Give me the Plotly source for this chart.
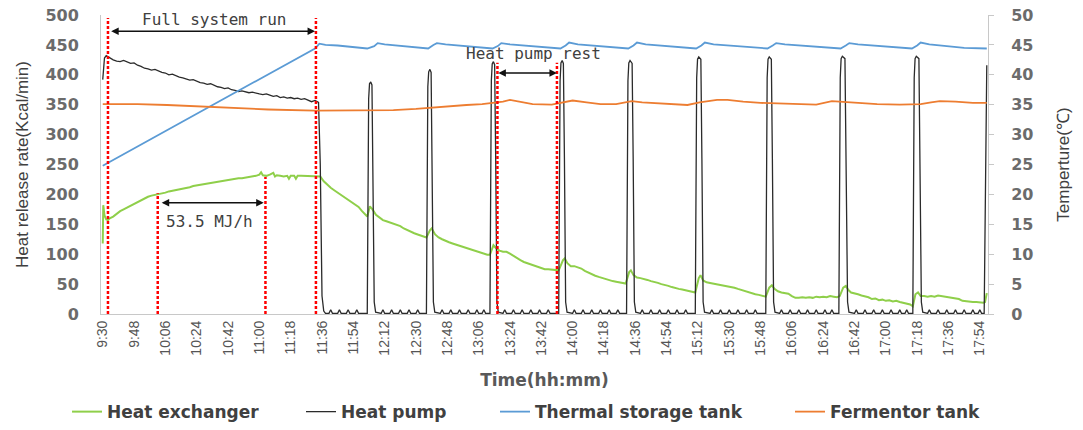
import plotly.graph_objects as go

# ---------------- data (x = minutes after 9:30) ----------------
tick_labels = ["9:30", "9:48", "10:06", "10:24", "10:42", "11:00", "11:18", "11:36", "11:54",
               "12:12", "12:30", "12:48", "13:06", "13:24", "13:42", "14:00", "14:18", "14:36",
               "14:54", "15:12", "15:30", "15:48", "16:06", "16:24", "16:42", "17:00", "17:18",
               "17:36", "17:54"]

heat_exchanger = [
    [0, 118], [0.3, 182], [1, 165], [2, 158], [3, 157], [4, 160], [6, 163], [8, 168], [10, 172], [12, 175],
    [14, 178], [16, 181], [18, 184], [20, 188], [22, 191], [24, 193], [26, 196], [28, 198], [30, 199],
    [32, 201], [34, 202], [36, 203], [38, 205], [40, 206], [42, 207], [44, 209], [46, 210], [48, 211],
    [50, 212], [52, 214], [54, 215], [56, 216], [58, 218], [60, 218], [62, 220], [64, 221], [66, 222],
    [68, 222], [70, 224], [72, 224], [74, 225], [76, 226], [78, 227], [80, 227], [82, 228], [84, 229],
    [86, 229], [88, 231], [90, 233], [91, 237], [92, 232], [94, 231], [96, 233], [98, 236], [99, 230],
    [100, 232], [102, 231], [104, 230], [106, 231], [107, 226], [108, 231], [110, 231], [111, 226],
    [112, 231], [114, 231], [116, 231], [118, 231], [120, 231], [122, 231], [124, 231], [125, 230],
    [127, 222], [129, 216], [131, 211], [133, 207], [135, 203], [137, 199], [139, 196], [141, 192],
    [143, 188], [145, 184], [147, 179], [149, 172], [151, 166], [152, 163], [153.5, 180], [155, 175],
    [157, 166], [159, 161], [161, 157], [163, 155], [165, 153], [167, 150], [169, 149], [171, 147],
    [173, 143], [175, 140], [177, 137], [179, 135], [181, 133], [183, 131], [185, 129], [186, 128],
    [188, 140], [189, 143], [191, 133], [193, 128], [195, 125], [197, 122], [199, 120], [201, 118],
    [203, 116], [205, 114], [207, 112], [209, 110], [211, 108], [213, 106], [215, 104], [217, 103],
    [219, 101], [221, 99], [222.5, 99], [224.5, 115], [226, 110], [228, 106], [230, 104], [232, 104],
    [234, 101], [236, 97], [238, 93], [240, 90], [242, 87], [244, 85], [246, 82], [248, 80], [250, 78],
    [252, 77], [254, 75], [256, 75], [258, 74], [262, 73], [264.5, 90], [265.5, 93], [267, 85],
    [269, 80], [271, 80], [273, 78], [275, 76], [277, 72], [279, 69], [281, 66], [283, 64], [285, 62],
    [287, 60], [289, 58], [291, 57], [293, 55], [295, 54], [297, 53], [299, 52], [300.5, 51],
    [302.5, 70], [303.5, 73], [305, 65], [307, 61], [309, 60], [311, 59], [313, 57], [315, 55],
    [317, 54], [319, 52], [321, 50], [323, 49], [325, 47], [327, 45], [329, 43], [331, 42], [333, 41],
    [335, 40], [337, 38], [339, 37], [340.5, 36], [342.5, 60], [343.5, 65], [345, 56], [347, 53],
    [349, 52], [351, 51], [353, 50], [355, 48], [357, 47], [359, 46], [361, 46], [363, 44], [365, 42],
    [367, 40], [369, 38], [371, 36], [373, 35], [375, 33], [377, 32], [379, 31], [381, 29], [383, 44],
    [384.5, 48], [386, 42], [388, 38], [390, 36], [392, 35], [394, 34], [396, 30], [398, 27], [400, 27],
    [402, 28], [404, 27], [406, 28], [408, 27], [410, 29], [412, 28], [414, 29], [416, 28], [418, 30],
    [420, 29], [422, 28], [423.5, 30], [425.5, 44], [427, 47], [428.5, 40], [430, 36], [432, 35],
    [434, 33], [436, 31], [438, 30], [440, 28], [442, 25], [444, 26], [446, 23], [448, 24], [450, 22],
    [452, 23], [454, 21], [456, 22], [458, 20], [460, 19], [462, 17], [464, 16], [465.5, 13],
    [467, 33], [468.5, 36], [470, 30], [472, 30], [474, 29], [476, 30], [478, 29], [480, 31], [482, 30],
    [484, 28], [486, 28], [488, 27], [490, 26], [492, 25], [494, 22], [496, 21], [498, 21], [500, 20],
    [502, 20], [504, 19], [506, 19], [507, 20], [508, 35],
]

heat_pump = [
    [0, 392], [1, 428], [2, 432], [4, 428], [6, 425], [8, 423], [10, 422], [12, 424], [14, 421],
    [16, 419], [18, 420], [20, 416], [22, 414], [24, 411], [26, 410], [28, 408], [30, 409], [32, 406],
    [34, 404], [36, 403], [38, 400], [40, 401], [42, 398], [44, 396], [46, 395], [48, 393], [50, 391],
    [52, 392], [54, 389], [56, 387], [58, 386], [60, 384], [62, 385], [64, 382], [66, 380], [68, 379],
    [70, 377], [72, 378], [74, 375], [76, 374], [78, 372], [80, 373], [82, 371], [84, 370], [86, 371],
    [88, 369], [90, 368], [92, 367], [94, 368], [96, 366], [98, 364], [100, 365], [102, 362], [104, 363],
    [106, 361], [108, 362], [110, 360], [112, 361], [114, 359], [116, 360], [118, 357], [120, 355],
    [122, 357], [124, 354], [125, 250], [126, 30], [127, 5], [128, 1],
    [130, 1], [131, 7], [132, 1], [135, 1], [136, 7], [137, 1], [140, 1], [141, 7], [142, 1],
    [145, 1], [146, 7], [147, 1],
    [152, 1], [152.8, 360], [153.3, 385], [154, 388], [154.7, 383], [155.3, 250], [156, 20], [156.8, 3],
    [160, 1], [161, 7], [162, 1], [165, 1], [166, 7], [167, 1], [170, 1], [171, 7], [172, 1],
    [175, 1], [176, 7], [177, 1], [180, 1], [181, 7], [182, 1],
    [186, 1], [186.8, 380], [187.3, 405], [188, 409], [188.7, 404], [189.3, 260], [190, 20], [190.8, 3],
    [194, 1], [195, 7], [196, 1], [199, 1], [200, 7], [201, 1], [204, 1], [205, 7], [206, 1],
    [209, 1], [210, 7], [211, 1], [214, 1], [215, 7], [216, 1], [218, 1], [219, 7], [220, 1],
    [222.5, 1], [223.3, 390], [223.8, 418], [224.5, 422], [225.2, 417], [225.8, 260], [226.5, 20], [227.3, 3],
    [230, 1], [231, 7], [232, 1], [235, 1], [236, 7], [237, 1], [240, 1], [241, 7], [242, 1],
    [245, 1], [246, 7], [247, 1], [250, 1], [251, 7], [252, 1], [255, 1], [256, 7], [257, 1],
    [262, 1], [262.8, 390], [263.3, 420], [264, 424], [264.7, 419], [265.3, 260], [266, 20], [266.8, 3],
    [270, 1], [271, 7], [272, 1], [275, 1], [276, 7], [277, 1], [280, 1], [281, 7], [282, 1],
    [285, 1], [286, 7], [287, 1], [290, 1], [291, 7], [292, 1], [295, 1], [296, 7], [297, 1],
    [301, 1], [301.8, 390], [302.3, 420], [303, 424], [304.2, 419], [304.8, 260], [305.5, 20], [306.3, 3],
    [309, 1], [310, 7], [311, 1], [314, 1], [315, 7], [316, 1], [319, 1], [320, 7], [321, 1],
    [324, 1], [325, 7], [326, 1], [329, 1], [330, 7], [331, 1], [334, 1], [335, 7], [336, 1],
    [340.5, 1], [341.3, 395], [341.8, 426], [342.5, 430], [343.7, 426], [344.3, 260], [345, 20], [345.8, 3],
    [349, 1], [350, 7], [351, 1], [354, 1], [355, 7], [356, 1], [359, 1], [360, 7], [361, 1],
    [364, 1], [365, 7], [366, 1], [369, 1], [370, 7], [371, 1], [374, 1], [375, 7], [376, 1],
    [381, 1], [381.8, 395], [382.3, 426], [383, 430], [384.2, 426], [384.8, 260], [385.5, 20], [386.3, 3],
    [389, 1], [390, 7], [391, 1], [394, 1], [395, 7], [396, 1], [399, 1], [400, 7], [401, 1],
    [404, 1], [405, 7], [406, 1], [409, 1], [410, 7], [411, 1], [414, 1], [415, 7], [416, 1],
    [418, 1], [419, 7], [420, 1],
    [423, 1], [423.8, 395], [424.3, 427], [425, 431], [426.5, 427], [427.2, 260], [428, 20], [428.8, 3],
    [432, 1], [433, 7], [434, 1], [437, 1], [438, 7], [439, 1], [442, 1], [443, 7], [444, 1],
    [447, 1], [448, 7], [449, 1], [452, 1], [453, 7], [454, 1], [457, 1], [458, 7], [459, 1],
    [461, 1], [462, 7], [463, 1],
    [465.5, 1], [466.3, 395], [466.8, 427], [467.5, 431], [469, 427], [469.7, 260], [470.4, 20], [471.2, 3],
    [474, 1], [475, 7], [476, 1], [479, 1], [480, 7], [481, 1], [484, 1], [485, 7], [486, 1],
    [489, 1], [490, 7], [491, 1], [494, 1], [495, 7], [496, 1], [499, 1], [500, 7], [501, 1],
    [503, 1], [504, 7], [505, 1], [506.5, 1], [507.3, 300], [508, 416],
]

thermal_storage = [
    [0, 24.8], [20, 28.0], [40, 31.2], [60, 34.4], [80, 37.7], [100, 40.9], [122, 44.4], [124.5, 45.2],
    [128, 45.0], [135, 44.9], [145, 44.6], [152, 44.4], [156, 44.8], [158, 45.3], [162, 45.1],
    [170, 44.9], [180, 44.6], [187, 44.4], [190, 45.0], [192, 45.3], [197, 45.1], [205, 44.9],
    [215, 44.6], [224, 44.4], [227, 44.8], [229, 45.3], [234, 45.1], [242, 44.9], [252, 44.6],
    [263, 44.4], [266, 44.9], [268, 45.4], [273, 45.1], [282, 44.9], [292, 44.6], [302, 44.4],
    [305, 44.9], [307, 45.4], [312, 45.1], [320, 44.9], [330, 44.6], [341, 44.4], [344, 44.9],
    [346, 45.4], [351, 45.1], [360, 44.9], [370, 44.6], [382, 44.4], [385, 44.9], [387, 45.3],
    [392, 45.1], [400, 44.9], [412, 44.6], [424, 44.4], [427, 44.9], [429, 45.3], [434, 45.1],
    [443, 44.9], [455, 44.6], [465, 44.4], [468, 44.9], [470, 45.4], [475, 45.1], [485, 44.8],
    [495, 44.5], [508, 44.4],
]

fermentor = [
    [0, 35.1], [20, 35.1], [37, 34.95], [55, 34.7], [75, 34.4], [95, 34.2], [122, 34.0], [150, 34.1],
    [167, 34.1], [180, 34.3], [190, 34.55], [200, 34.8], [209, 34.95], [218, 35.1], [224, 35.3],
    [230, 35.5], [234, 35.8], [240, 35.5], [247, 35.1], [258, 35.0], [264, 35.3], [270, 35.7],
    [278, 35.4], [286, 35.1], [295, 35.1], [304, 35.6], [310, 35.4], [320, 35.2], [330, 35.0],
    [336, 34.95], [343, 35.4], [353, 35.8], [359, 35.8], [368, 35.5], [378, 35.3], [393, 35.2],
    [410, 35.0], [419, 35.6], [425, 35.5], [431, 35.3], [445, 35.1], [458, 35.0], [470, 35.1],
    [476, 35.4], [481, 35.6], [490, 35.5], [500, 35.3], [508, 35.3],
]

# red dotted event markers: minute, top value (Kcal/min)
event_minutes = [3, 31.6, 93.5, 122.5, 226.8, 261]
event_tops = [495, 202, 229, 495, 420, 420]

# arrows: start minute, end minute, level (Kcal/min), label, label minute, label level
arrow_starts = [4, 33, 226.5]
arrow_ends = [122, 92.5, 261]
arrow_levels = [473, 186, 403]
arrow_labels = ["Full system run", "53.5 MJ/h", "Heat pump rest"]
label_minutes = [64, 61.5, 247.5]
label_levels = [492, 154, 435]

# ---------------- figure ----------------
def split(pairs):
    return [p[0] for p in pairs], [p[1] for p in pairs]

tick_vals = []
for lab in tick_labels:
    h, m = lab.split(":")
    tick_vals.append(int(h) * 60 + int(m) - 570)

fig = go.Figure()
series = [
    ("Heat exchanger", heat_exchanger, "#8FCF4A", 2.0, "y", "legend", -0.0383),
    ("Heat pump", heat_pump, "#2b2b2b", 1.3, "y", "legend2", 0.2255),
    ("Thermal storage tank", thermal_storage, "#5B9BD5", 1.8, "y2", "legend3", 0.4442),
    ("Fermentor tank", fermentor, "#ED7D31", 1.8, "y2", "legend4", 0.7768),
]
legend_font = dict(family="DejaVu Sans", size=17, color="#404040", weight="bold")
legend_cfg = {}
for name, data, color, w, ax, leg, lx in series:
    xs, ys = split(data)
    fig.add_trace(go.Scatter(x=xs, y=ys, name=name, mode="lines", yaxis=ax, legend=leg,
                             line=dict(color=color, width=w)))
    legend_cfg[leg] = dict(orientation="h", x=lx, xanchor="left", y=-0.328, yanchor="middle",
                           font=legend_font, bgcolor="rgba(0,0,0,0)")

for m, top in zip(event_minutes, event_tops):
    fig.add_shape(type="line", xref="x", yref="y", x0=m, x1=m, y0=0, y1=top,
                  line=dict(color="#FF0000", width=2.5, dash="3px,2px"), layer="above")

for s, e, lv, lab, lm, ll in zip(arrow_starts, arrow_ends, arrow_levels, arrow_labels,
                                 label_minutes, label_levels):
    fig.add_annotation(x=e, y=lv, ax=s, ay=lv, xref="x", yref="y", axref="x", ayref="y",
                       text="", showarrow=True, arrowhead=2, startarrowhead=2,
                       arrowside="end+start", arrowsize=1, arrowwidth=1.5, arrowcolor="#111111")
    fig.add_annotation(x=lm, y=ll, xref="x", yref="y", text=lab, showarrow=False,
                       font=dict(family="DejaVu Sans Mono", size=16, color="#404040"))

axis_font = dict(family="DejaVu Sans", size=16, color="#6b6b6b", weight="bold")
narrow = "Liberation Sans Narrow, Arial Narrow, Liberation Sans"

fig.update_layout(
    width=1083, height=430,
    margin=dict(l=101, r=95, t=15, b=116, autoexpand=False),
    plot_bgcolor="white", paper_bgcolor="white",
    showlegend=True,
    xaxis=dict(range=[-1, 508.7], tickvals=tick_vals, ticktext=tick_labels, tickangle=-90,
               showgrid=False, zeroline=False, showline=True, linecolor="#c8c8c8", linewidth=1,
               tickfont=dict(family=narrow, size=14, color="#555555"),
               title=dict(text="Time(hh:mm)", standoff=19,
                          font=dict(family="DejaVu Sans", size=17, color="#595959", weight="bold"))),
    yaxis=dict(range=[0, 500], dtick=50, showgrid=False, zeroline=False, showline=True,
               linecolor="#c8c8c8", linewidth=1, tickfont=axis_font, ticks="",
               ticklabelstandoff=18, ticklabeloverflow="allow",
               title=dict(text="Heat release rate(Kcal/min)", standoff=12,
                          font=dict(family=narrow, size=17, color="#404040"))),
    yaxis2=dict(range=[0, 50], dtick=5, overlaying="y", side="right", showgrid=False,
                zeroline=False, showline=True, linecolor="#c8c8c8", linewidth=1,
                ticks="outside", ticklen=5, tickcolor="#c8c8c8", tickfont=axis_font,
                ticklabelstandoff=14, ticklabeloverflow="allow",
                title=dict(text="Temperture(℃)", standoff=24,
                           font=dict(family=narrow, size=17, color="#404040"))),
    **legend_cfg,
)

# remove the page's default 8px body margin so the figure sits at the window's corner
fig.write_html("out.html", post_script="document.body.style.margin='0';",
               config={"displayModeBar": False})
